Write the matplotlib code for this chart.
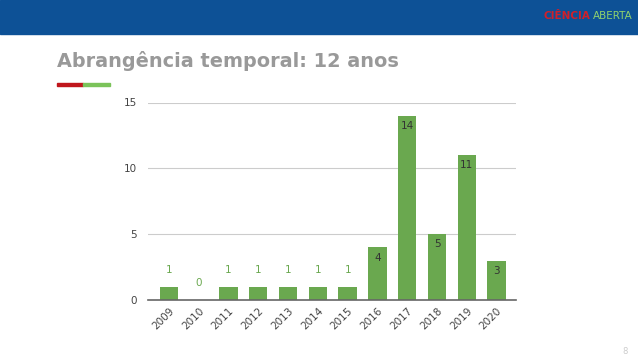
import matplotlib.pyplot as plt
from matplotlib.patches import Rectangle

anos = ['2009', '2010', '2011', '2012', '2013', '2014',
        '2015', '2016', '2017', '2018', '2019', '2020']
valores = [1, 0, 1, 1, 1, 1, 1, 4, 14, 5, 11, 3]
yticks = [0, 5, 10, 15]

verde = '#6aa84f'

fig = plt.figure(figsize=(6.38, 3.59), dpi=100)

# cabecalho azul
fig.patches.append(Rectangle((0, 1 - 34 / 359), 1, 34 / 359,
                             transform=fig.transFigure, color='#0d5196', zorder=0))
fig.text(0.925, 0.955, 'CIÊNCIA', color='#d0202a', fontsize=7.5, fontweight='bold',
         ha='right', va='center')
fig.text(0.93, 0.955, 'ABERTA', color='#8fd16e', fontsize=7.5,
         ha='left', va='center')

# titulo
fig.text(57 / 638, 1 - 61 / 359, 'Abrangência temporal: 12 anos', color='#999999',
         fontsize=13.9, fontweight='bold', ha='left', va='center')
fig.patches.append(Rectangle((57 / 638, 1 - 86 / 359), 26 / 638, 3 / 359,
                             transform=fig.transFigure, color='#c0161c'))
fig.patches.append(Rectangle((83 / 638, 1 - 86 / 359), 27 / 638, 3 / 359,
                             transform=fig.transFigure, color='#7bc35a'))
fig.text(628 / 638, 1 - 352 / 359, '8', color='#cccccc', fontsize=6,
         ha='right', va='center')

ax = fig.add_axes([148 / 638, 59 / 359, 368 / 638, 197.5 / 359])
x = list(range(len(anos)))
ax.bar(x, valores, width=0.62, color=verde, zorder=2)

for i, v in enumerate(valores):
    if v >= 3:
        ax.text(i, v - 0.4, str(v), ha='center', va='top', fontsize=7.5, color='#333333')
    else:
        ax.text(i, v + 0.9, str(v), ha='center', va='bottom', fontsize=7.5, color=verde)

ax.set_xlim(-0.7, 11.65)
ax.set_ylim(0, 15)
ax.set_yticks(yticks)
ax.set_xticks(x)
ax.set_xticklabels(anos, rotation=45, ha='right', rotation_mode='anchor')
ax.tick_params(axis='both', length=0, labelsize=7.5, colors='#444444')
ax.tick_params(axis='x', pad=4)
ax.tick_params(axis='y', pad=8)
ax.grid(axis='y', color='#cccccc', linewidth=0.8, zorder=0)
for s in ['top', 'right', 'left']:
    ax.spines[s].set_visible(False)
ax.spines['bottom'].set_color('#666666')
ax.spines['bottom'].set_linewidth(1.2)
ax.spines['bottom'].set_zorder(3)

fig.savefig('out.png', dpi=100)
